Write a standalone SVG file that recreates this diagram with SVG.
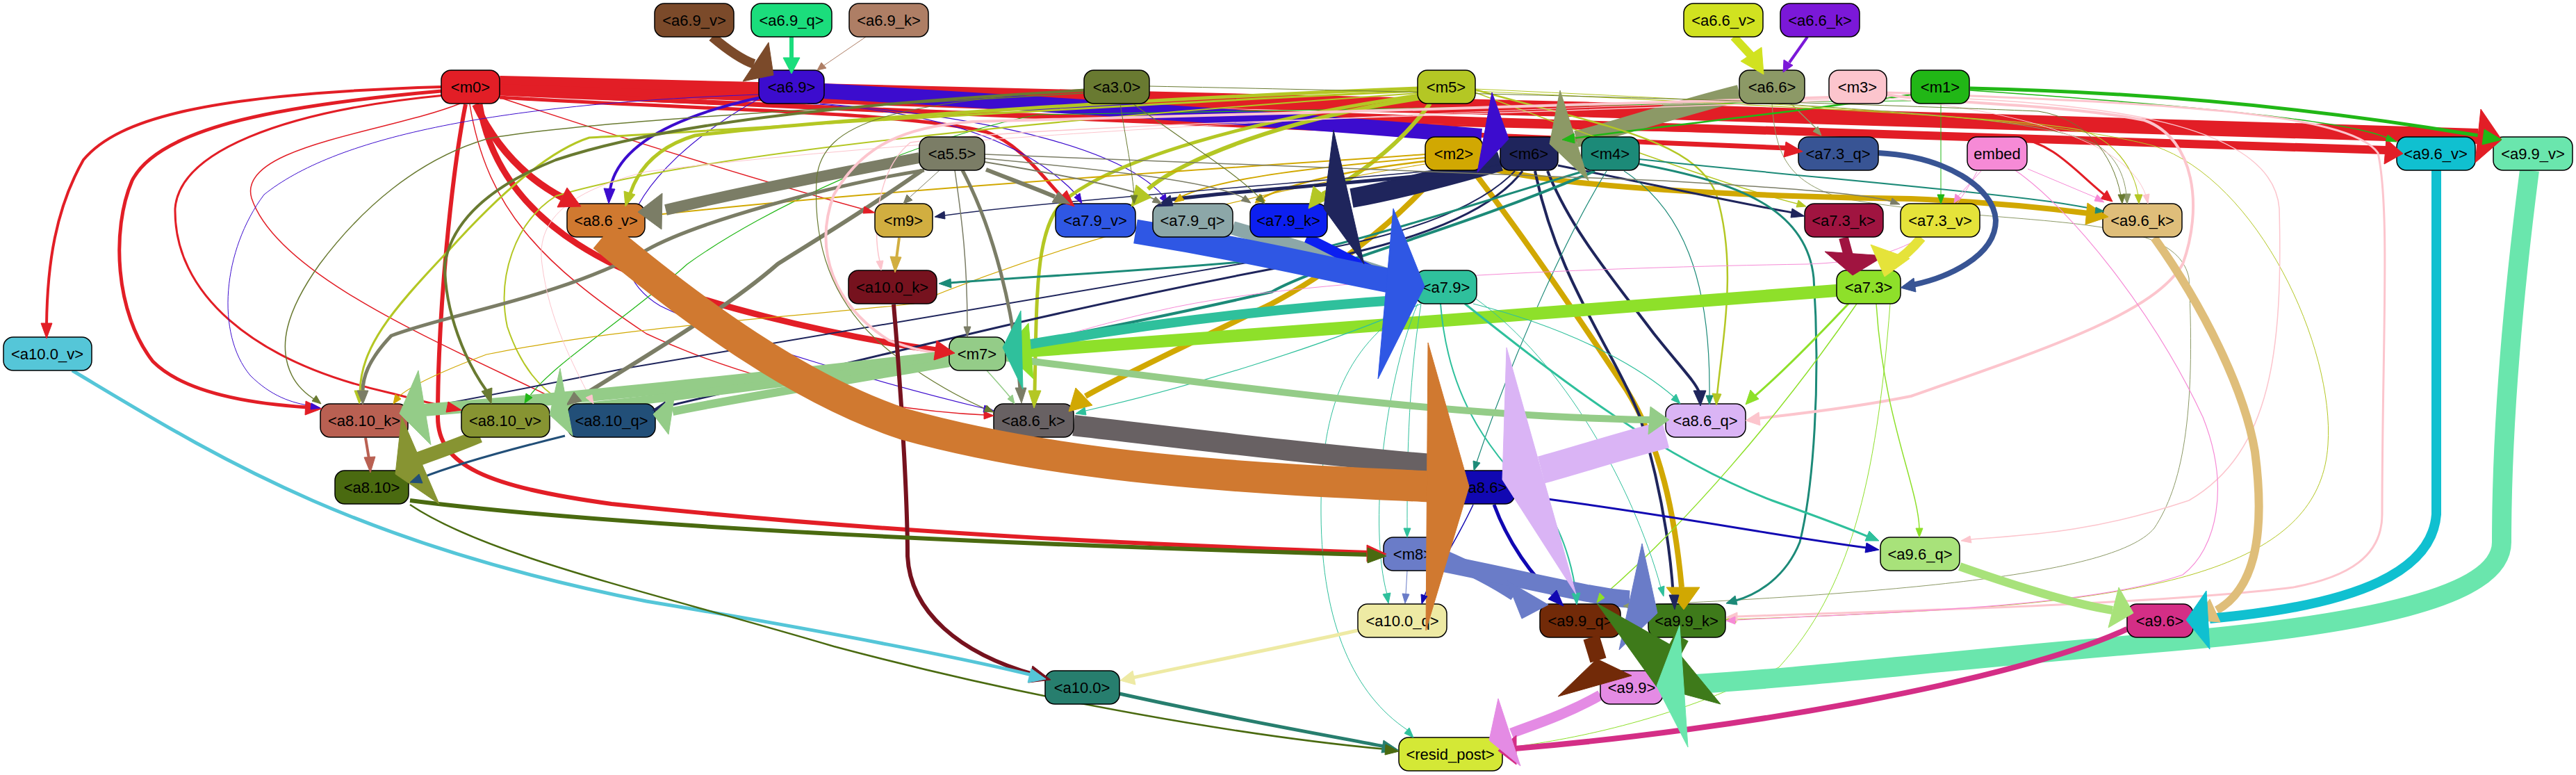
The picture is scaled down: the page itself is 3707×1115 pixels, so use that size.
<svg xmlns="http://www.w3.org/2000/svg" width="3707" height="1115" viewBox="0 0 3707 1115">
<style>
.n rect{stroke:#000;stroke-width:1.5}
.n text{font-family:"Liberation Sans",Arial,sans-serif;font-size:22px;fill:#000;text-anchor:middle}
.e path{fill:none;stroke:currentColor}
.e polygon{fill:currentColor;stroke:currentColor;stroke-width:1}
.c-m0{color:#e21e26}.c-a69{color:#3c0cce}.c-a69v{color:#7b4a2a}.c-a69q{color:#1bdd7c}.c-a69k{color:#ae7e65}
.c-a66v{color:#d1e220}.c-a66k{color:#7b18d8}.c-a66{color:#8c9966}.c-m1{color:#21b716}.c-m5{color:#b4c724}
.c-m2{color:#d1a802}.c-m6{color:#1f255c}.c-m4{color:#1c8a78}.c-a55{color:#7b7d66}.c-m3{color:#fcc5cd}
.c-emb{color:#f68ad6}.c-a30{color:#697a31}.c-a73q{color:#385494}.c-a73k{color:#a01440}.c-a73v{color:#e5e33a}
.c-a96k{color:#dfbe7a}.c-a73{color:#8ee02a}.c-a79{color:#2fc09c}.c-a79q{color:#8ca7a8}.c-a79k{color:#0c1ff0}
.c-a79v{color:#2f57e4}.c-a86k{color:#686163}.c-a86v{color:#d07930}.c-a86q{color:#dab4f5}.c-m7{color:#94cc88}
.c-m9{color:#d1ae40}.c-a100k{color:#76121e}.c-a100v{color:#55c6d8}.c-a100q{color:#eeeaa4}.c-a100{color:#277e6e}
.c-a810k{color:#b96052}.c-a810v{color:#879432}.c-a810q{color:#224f78}.c-a810{color:#4a6a10}.c-a86{color:#1108b2}
.c-m8{color:#6a7cc8}.c-a99q{color:#722a08}.c-a99k{color:#3e7a1a}.c-a99v{color:#6ae6ad}.c-a96v{color:#10c0d0}
.c-a96q{color:#a8e27a}.c-a96{color:#d42e86}.c-a99{color:#e48be4}
</style>
<rect width="3707" height="1115" fill="#fff"/>
<g id="edges" class="e">
<g class="c-m0">
<path d="M719,120 C1500,138 2700,165 3566,196" stroke-width="22"/>
<path d="M719,127 C1500,158 2700,190 3433,216" stroke-width="12"/>
<path d="M719,133 C1400,168 2200,192 2572,213" stroke-width="7"/>
<path d="M684,150 C715,215 760,258 809,284" stroke-width="10"/>
<path d="M690,150 C720,330 900,405 1100,455 C1200,480 1290,496 1348,504" stroke-width="9"/>
<path d="M635,131 C420,150 230,180 190,260 C160,330 165,450 220,520 C270,570 380,582 442,586" stroke-width="5"/>
<path d="M635,125 C300,135 170,170 120,230 C80,300 68,380 67,467" stroke-width="4"/>
<path d="M670,150 C650,250 630,450 630,600 C630,670 700,700 880,725 C1300,770 1700,785 1970,795" stroke-width="6"/>
<path d="M640,137 C400,160 258,220 252,300 C250,420 360,520 560,565 C600,575 625,582 648,586" stroke-width="3"/>
<path d="M662,149 C560,190 340,210 362,285 C400,400 650,500 805,577" stroke-width="1.5"/>
<path d="M676,150 C700,300 780,380 930,480 C1100,560 1300,592 1417,597" stroke-width="1.5"/>
<path d="M724,142 C900,200 1100,262 1246,302" stroke-width="1.5"/>
<path d="M719,140 C1000,158 1300,160 1420,190 C1470,208 1500,255 1528,283" stroke-width="5"/>
<path d="M719,136 C1500,172 2600,192 2900,198 C2955,205 2985,245 3028,280" stroke-width="3"/>
</g>
<g class="c-a69">
<path d="M1186,131 C1500,150 1800,168 2132,196" stroke-width="22"/>
<path d="M1095,140 C980,165 890,205 878,272" stroke-width="4"/>
<path d="M1162,149 C1350,160 1480,205 1550,281" stroke-width="1.2"/>
<path d="M1180,149 C1450,170 1620,220 1674,282" stroke-width="1.2"/>
<path d="M1092,136 C700,150 480,200 380,280 C320,360 310,480 360,540 C390,570 420,580 449,584" stroke-width="1"/>
<path d="M1092,142 C900,250 850,380 950,440 C1050,490 1300,560 1418,588" stroke-width="1.2"/>
</g>
<g class="c-a69v"><path d="M1025,53 C1045,70 1065,85 1085,92" stroke-width="14"/></g>
<g class="c-a69q"><path d="M1139,53 L1139,86" stroke-width="6"/></g>
<g class="c-a69k"><path d="M1246,53 L1186,94" stroke-width="1"/></g>
<g class="c-a66v"><path d="M2495,53 L2520,80" stroke-width="12"/></g>
<g class="c-a66k"><path d="M2601,53 L2575,90" stroke-width="4"/></g>
<g class="c-a66">
<path d="M2503,134 C2400,160 2320,188 2268,200" stroke-width="24"/>
<path d="M2577,149 L2615,186" stroke-width="1.5"/>
<path d="M2550,149 C2555,220 2570,260 2650,285 C2900,330 3130,300 3150,400 C3160,600 3140,700 3100,760 C3050,820 2800,850 2350,871" stroke-width="1"/>
<path d="M2560,149 C2700,160 2950,170 3020,210 C3050,230 3058,260 3060,281" stroke-width="1"/>
</g>
<g class="c-m1">
<path d="M2750,136 C2600,160 2400,180 2264,199" stroke-width="2.5"/>
<path d="M2835,127 C3116,133 3360,160 3572,196" stroke-width="5"/>
<path d="M2835,130 C3238,157 3400,180 3438,200" stroke-width="1.5"/>
<path d="M2793,149 L2793,281" stroke-width="1"/>
<path d="M2750,145 C2200,150 1600,160 1493,165 C1315,200 1100,300 989,380 C900,460 800,520 762,570" stroke-width="1.2"/>
</g>
<g class="c-m5">
<path d="M2040,127 C1700,140 1200,170 1000,195 C950,210 920,240 907,278" stroke-width="5"/>
<path d="M2040,131 C1600,150 1000,190 848,198 C780,220 700,300 646,360 C560,450 520,500 518,563" stroke-width="3"/>
<path d="M2040,134 C1500,172 1000,222 800,282 C740,320 715,400 730,470 C750,530 780,560 804,574" stroke-width="2"/>
<path d="M2058,149 C2010,215 1940,262 1903,279" stroke-width="6"/>
<path d="M2045,141 C1850,170 1700,230 1652,272" stroke-width="6"/>
<path d="M2042,137 C1800,172 1600,230 1530,290 C1490,330 1492,420 1489,563" stroke-width="5"/>
<path d="M2123,129 C2300,180 2440,200 2470,280 C2500,380 2480,480 2471,568" stroke-width="2.5"/>
<path d="M2123,133 C2300,200 2500,272 2586,293" stroke-width="1.5"/>
<path d="M2123,131 C2500,150 2900,168 2994,187 C3040,200 3070,240 3077,281" stroke-width="1.2"/>
<path d="M2123,128 C2600,150 2950,170 3100,210 C3250,260 3360,500 3350,640 C3340,800 3150,860 2750,880 C2600,888 2520,890 2497,891" stroke-width="1"/>
</g>
<g class="c-m2">
<path d="M2072,246 C2000,330 1900,400 1830,437 C1700,500 1600,548 1562,570" stroke-width="8"/>
<path d="M2120,246 C2200,350 2280,470 2340,560 C2390,640 2410,740 2420,845" stroke-width="8"/>
<path d="M2134,240 C2250,270 2500,282 2750,286 C2850,290 2950,300 3006,307" stroke-width="8"/>
<path d="M2051,222 C1800,240 1300,270 944,309" stroke-width="2"/>
<path d="M2051,227 C1900,240 1760,255 1700,283" stroke-width="2"/>
<path d="M2051,232 C1960,242 1860,262 1818,284" stroke-width="2.5"/>
<path d="M2051,236 C1900,260 1600,320 1315,437 C1100,460 900,470 700,510 C620,540 585,560 572,572" stroke-width="1.2"/>
</g>
<g class="c-m6">
<path d="M2159,232 C2080,255 2000,275 1945,285" stroke-width="28"/>
<path d="M2191,246 C2150,300 2050,350 1830,387 C1500,450 1250,517 957,585" stroke-width="3"/>
<path d="M2180,246 C2100,330 1900,360 1830,372 C1500,427 1200,480 900,530 C750,560 650,580 602,587" stroke-width="2"/>
<path d="M2159,237 C1800,270 1500,290 1359,310" stroke-width="1.5"/>
<path d="M2159,241 C1950,265 1800,272 1686,287" stroke-width="5"/>
<path d="M2227,246 C2260,330 2320,400 2380,480 C2420,530 2440,550 2445,564" stroke-width="4"/>
<path d="M2209,246 C2240,400 2320,500 2360,600 C2390,700 2403,780 2408,857" stroke-width="4"/>
<path d="M2242,238 C2400,270 2500,292 2580,306" stroke-width="3"/>
</g>
<g class="c-m4">
<path d="M2280,246 C2100,300 1950,350 1830,373 C1650,390 1450,400 1368,407" stroke-width="3"/>
<path d="M2295,246 C2100,330 1900,380 1830,420 C1700,450 1550,480 1472,494" stroke-width="4"/>
<path d="M2359,236 C2500,262 2600,300 2610,400 C2620,550 2610,700 2590,780 C2570,830 2530,855 2498,864" stroke-width="3"/>
<path d="M2359,229 C2550,250 2800,270 2950,290 C2990,296 3010,300 3020,302" stroke-width="2"/>
<path d="M2337,246 C2420,300 2462,400 2460,570" stroke-width="1.2"/>
<path d="M2312,246 C2260,330 2180,500 2125,665" stroke-width="1.2"/>
</g>
<g class="c-a55">
<path d="M1323,227 C1200,250 1050,280 958,302" stroke-width="16"/>
<path d="M1330,245 C1200,265 1000,320 930,360 C800,430 650,450 563,483 C528,520 522,545 522,563" stroke-width="5"/>
<path d="M1327,245 C1250,300 1150,360 1119,380 C1050,440 950,500 830,574" stroke-width="6"/>
<path d="M1352,245 L1310,283" stroke-width="1"/>
<path d="M1419,244 C1460,260 1500,275 1518,283" stroke-width="6"/>
<path d="M1417,233 C1550,255 1630,272 1662,287" stroke-width="2"/>
<path d="M1417,228 C1600,245 1750,262 1790,285" stroke-width="1.5"/>
<path d="M1417,222 C1800,238 2156,248 2393,260 C2600,272 2690,280 2722,290" stroke-width="1.5"/>
<path d="M1374,245 C1385,320 1392,380 1392,470" stroke-width="1.5"/>
<path d="M1385,245 C1430,330 1460,450 1468,560" stroke-width="5"/>
</g>
<g class="c-m3">
<path d="M2715,136 C2800,150 2960,148 3086,173 C3160,200 3170,300 3141,380 C3100,450 2950,500 2750,570 C2650,590 2560,598 2530,602" stroke-width="4"/>
<path d="M2632,140 C2300,150 1800,165 1400,175 C1300,182 1240,210 1200,280 C1170,360 1200,440 1280,490 C1315,503 1335,506 1352,508" stroke-width="4"/>
<path d="M2632,145 C2000,170 1500,180 1310,205 C1262,245 1255,330 1266,376" stroke-width="1.5"/>
<path d="M2632,143 C2000,160 1300,200 930,247 C830,272 770,310 780,380 C790,460 825,525 848,570" stroke-width="1"/>
<path d="M2715,133 C3100,148 3380,160 3422,220 C3440,300 3428,500 3428,740 C3428,800 3380,830 3300,845 C3100,870 2700,880 2500,887" stroke-width="3"/>
<path d="M2715,141 C2900,160 3060,200 3088,281" stroke-width="1"/>
<path d="M2715,138 C3000,145 3270,170 3280,300 C3285,500 3270,650 3150,720 C3000,770 2900,770 2836,776" stroke-width="1.5"/>
</g>
<g class="c-emb">
<path d="M2845,247 C2800,330 2750,375 2600,380 C2300,385 1900,400 1700,440 C1600,460 1510,490 1463,500" stroke-width="1"/>
<path d="M2851,246 L2818,282" stroke-width="1"/>
<path d="M2918,243 L3018,285" stroke-width="1"/>
<path d="M2900,245 C2980,300 3100,450 3170,600 C3210,700 3190,790 3141,827 C3000,875 2700,882 2497,892" stroke-width="1.2"/>
</g>
<g class="c-a30">
<path d="M1560,130 C1200,150 950,180 800,230 C700,270 650,320 640,380 C640,450 670,520 700,562" stroke-width="4"/>
<path d="M1560,134 C1100,160 800,180 700,200 C600,230 520,300 460,380 C410,450 400,500 420,540 C430,560 445,570 455,576" stroke-width="1.5"/>
<path d="M1560,128 C1300,150 1180,170 1175,260 C1170,360 1200,450 1300,520 C1350,556 1395,578 1418,588" stroke-width="1.2"/>
<path d="M1630,149 C1700,200 1780,250 1812,284" stroke-width="1.2"/>
<path d="M1612,149 C1620,200 1630,250 1632,281" stroke-width="1"/>
<path d="M1654,124 C2200,135 2700,150 2933,160 C3000,170 3040,220 3052,281" stroke-width="1"/>
</g>
<g class="c-a73q"><path d="M2703,220 C2800,225 2870,270 2872,317 C2872,370 2800,400 2752,410" stroke-width="8"/></g>
<g class="c-a73k"><path d="M2653,342 L2660,368" stroke-width="14"/></g>
<g class="c-a73v"><path d="M2765,342 C2750,360 2735,372 2725,378" stroke-width="14"/></g>
<g class="c-a96k"><path d="M3100,342 C3170,440 3230,560 3245,650 C3262,780 3240,850 3190,878" stroke-width="12"/></g>
<g class="c-a73">
<path d="M2643,418 C2300,445 1800,482 1480,505" stroke-width="18"/>
<path d="M2660,437 C2610,490 2560,540 2525,570" stroke-width="3"/>
<path d="M2672,437 C2560,600 2420,760 2306,858" stroke-width="1.5"/>
<path d="M2700,437 C2710,600 2760,700 2762,760" stroke-width="1.5"/>
<path d="M2720,437 C2700,700 2660,850 2560,960 C2400,1040 2250,1065 2175,1075" stroke-width="1"/>
</g>
<g class="c-a79">
<path d="M2037,430 C1800,445 1600,475 1478,496" stroke-width="14"/>
<path d="M2045,437 C1900,500 1700,560 1562,591" stroke-width="1.2"/>
<path d="M2120,437 C2250,470 2350,520 2410,572" stroke-width="1.2"/>
<path d="M2108,437 C2250,550 2393,660 2550,720 C2620,745 2660,760 2688,772" stroke-width="3"/>
<path d="M2073,437 C2085,590 2156,660 2230,740 C2255,780 2265,830 2268,855" stroke-width="2"/>
<path d="M2045,437 C2025,560 2025,680 2025,761" stroke-width="1"/>
<path d="M2040,437 C1990,560 1970,760 1996,855" stroke-width="1"/>
<path d="M2037,437 C1930,500 1900,600 1901,740 C1902,900 1950,1000 2025,1050" stroke-width="1"/>
<path d="M2124,430 C2250,520 2350,700 2390,845" stroke-width="1"/>
</g>
<g class="c-a79q"><path d="M1774,328 C1850,350 1950,380 2010,400" stroke-width="20"/></g>
<g class="c-a79k"><path d="M1880,342 C1920,360 1970,390 2010,405" stroke-width="14"/></g>
<g class="c-a79v"><path d="M1634,333 C1800,360 1900,385 2005,405" stroke-width="35"/></g>
<g class="c-a86k"><path d="M1545,612 C1700,630 1900,655 2060,668" stroke-width="30"/></g>
<g class="c-a86q"><path d="M2397,625 C2320,645 2260,665 2218,676" stroke-width="40"/></g>
<g class="c-m7">
<path d="M1366,513 C1100,545 800,575 610,590" stroke-width="18"/>
<path d="M1366,518 C1150,548 950,575 815,588" stroke-width="12"/>
<path d="M1366,522 C1200,550 1050,575 968,592" stroke-width="12"/>
<path d="M1447,515 C1800,560 2100,600 2375,604" stroke-width="10"/>
<path d="M1420,533 C1440,555 1450,567 1455,573" stroke-width="1.5"/>
</g>
<g class="c-m9"><path d="M1294,342 L1290,372" stroke-width="4"/></g>
<g class="c-a100k"><path d="M1286,438 C1300,600 1306,740 1306,800 C1310,880 1380,940 1490,971" stroke-width="6"/></g>
<g class="c-a100v"><path d="M104,533 C300,650 500,780 930,865 C1200,910 1400,950 1488,972" stroke-width="5"/></g>
<g class="c-a100q"><path d="M1954,907 C1850,930 1700,960 1630,975" stroke-width="5"/></g>
<g class="c-a100"><path d="M1611,998 C1800,1040 1950,1065 1992,1074" stroke-width="5"/></g>
<g class="c-a810k"><path d="M526,630 L531,660" stroke-width="4"/></g>
<g class="c-a810v"><path d="M690,627 C660,640 630,650 603,660" stroke-width="20"/></g>
<g class="c-a810q"><path d="M813,627 C720,650 650,670 605,688" stroke-width="3"/></g>
<g class="c-a810">
<path d="M590,720 C900,760 1500,785 1970,798" stroke-width="6"/>
<path d="M590,726 C700,800 930,850 1200,930 C1500,1010 1800,1060 1995,1078" stroke-width="2.5"/>
</g>
<g class="c-a86">
<path d="M2150,726 C2170,780 2205,830 2238,858" stroke-width="5"/>
<path d="M2182,712 C2400,740 2550,770 2686,788" stroke-width="3"/>
<path d="M2120,726 C2090,790 2060,830 2050,857" stroke-width="1.5"/>
</g>
<g class="c-m8">
<path d="M2075,800 C2110,815 2150,835 2180,855" stroke-width="20"/>
<path d="M2075,810 C2200,835 2300,860 2345,862" stroke-width="25"/>
<path d="M2025,821 L2023,855" stroke-width="1"/>
</g>
<g class="c-a99v"><path d="M3640,245 C3620,400 3600,600 3600,780 C3600,860 3400,900 3100,925 C2800,950 2600,975 2425,985" stroke-width="28"/></g>
<g class="c-a96v"><path d="M3506,245 L3506,740 C3500,820 3400,870 3180,890" stroke-width="14"/></g>
<g class="c-a96q"><path d="M2820,815 C2920,850 2990,870 3040,878" stroke-width="12"/></g>
<g class="c-a96"><path d="M3061,905 C2900,980 2500,1050 2180,1077" stroke-width="8"/></g>
<g class="c-a99"><path d="M2303,1000 C2250,1030 2200,1045 2175,1055" stroke-width="15"/></g>
</g>
<g id="nodes" class="n">
<g id="a6.9_v"><rect x="942" y="5" width="114" height="48" rx="14" fill="#7b4a2a"/><text x="999" y="37">&lt;a6.9_v&gt;</text></g>
<g id="a6.9_q"><rect x="1081" y="5" width="116" height="48" rx="14" fill="#1bdd7c"/><text x="1139" y="37">&lt;a6.9_q&gt;</text></g>
<g id="a6.9_k"><rect x="1222" y="5" width="114" height="48" rx="14" fill="#ae7e65"/><text x="1279" y="37">&lt;a6.9_k&gt;</text></g>
<g id="a6.6_v"><rect x="2423" y="5" width="114" height="48" rx="14" fill="#d1e220"/><text x="2480" y="37">&lt;a6.6_v&gt;</text></g>
<g id="a6.6_k"><rect x="2562" y="5" width="114" height="48" rx="14" fill="#7b18d8"/><text x="2619" y="37">&lt;a6.6_k&gt;</text></g>
<g id="m0"><rect x="635" y="101" width="84" height="48" rx="14" fill="#e21e26"/><text x="677" y="133">&lt;m0&gt;</text></g>
<g id="a6.9"><rect x="1092" y="101" width="94" height="48" rx="14" fill="#3c0cce"/><text x="1139" y="133">&lt;a6.9&gt;</text></g>
<g id="a3.0"><rect x="1560" y="101" width="94" height="48" rx="14" fill="#697a31"/><text x="1607" y="133">&lt;a3.0&gt;</text></g>
<g id="m5"><rect x="2040" y="101" width="83" height="48" rx="14" fill="#b4c724"/><text x="2081" y="133">&lt;m5&gt;</text></g>
<g id="a6.6"><rect x="2503" y="101" width="94" height="48" rx="14" fill="#8c9966"/><text x="2550" y="133">&lt;a6.6&gt;</text></g>
<g id="m3"><rect x="2632" y="101" width="83" height="48" rx="14" fill="#fcc5cd"/><text x="2673" y="133">&lt;m3&gt;</text></g>
<g id="m1"><rect x="2750" y="101" width="84" height="48" rx="14" fill="#21b716"/><text x="2792" y="133">&lt;m1&gt;</text></g>
<g id="a5.5"><rect x="1323" y="197" width="94" height="48" rx="14" fill="#7b7d66"/><text x="1370" y="229">&lt;a5.5&gt;</text></g>
<g id="m2"><rect x="2051" y="197" width="83" height="48" rx="14" fill="#d1a802"/><text x="2092" y="229">&lt;m2&gt;</text></g>
<g id="m6"><rect x="2159" y="197" width="83" height="48" rx="14" fill="#1f255c"/><text x="2200" y="229">&lt;m6&gt;</text></g>
<g id="m4"><rect x="2276" y="197" width="83" height="48" rx="14" fill="#1c8a78"/><text x="2317" y="229">&lt;m4&gt;</text></g>
<g id="a7.3_q"><rect x="2588" y="197" width="115" height="48" rx="14" fill="#385494"/><text x="2645" y="229">&lt;a7.3_q&gt;</text></g>
<g id="embed"><rect x="2831" y="197" width="86" height="48" rx="14" fill="#f68ad6"/><text x="2874" y="229">embed</text></g>
<g id="a9.6_v"><rect x="3449" y="197" width="113" height="48" rx="14" fill="#10c0d0"/><text x="3505" y="229">&lt;a9.6_v&gt;</text></g>
<g id="a9.9_v"><rect x="3588" y="197" width="114" height="48" rx="14" fill="#6ae6ad"/><text x="3645" y="229">&lt;a9.9_v&gt;</text></g>
<g id="a8.6_v"><rect x="816" y="293" width="112" height="48" rx="14" fill="#d07930"/><text x="872" y="325">&lt;a8.6_v&gt;</text></g>
<g id="m9"><rect x="1259" y="293" width="83" height="48" rx="14" fill="#d1ae40"/><text x="1300" y="325">&lt;m9&gt;</text></g>
<g id="a7.9_v"><rect x="1519" y="293" width="115" height="48" rx="14" fill="#2f57e4"/><text x="1576" y="325">&lt;a7.9_v&gt;</text></g>
<g id="a7.9_q"><rect x="1659" y="293" width="115" height="48" rx="14" fill="#8ca7a8"/><text x="1716" y="325">&lt;a7.9_q&gt;</text></g>
<g id="a7.9_k"><rect x="1799" y="293" width="111" height="48" rx="14" fill="#0c1ff0"/><text x="1854" y="325">&lt;a7.9_k&gt;</text></g>
<g id="a7.3_k"><rect x="2597" y="293" width="113" height="48" rx="14" fill="#a01440"/><text x="2653" y="325">&lt;a7.3_k&gt;</text></g>
<g id="a7.3_v"><rect x="2735" y="293" width="114" height="48" rx="14" fill="#e5e33a"/><text x="2792" y="325">&lt;a7.3_v&gt;</text></g>
<g id="a9.6_k"><rect x="3026" y="293" width="114" height="48" rx="14" fill="#dfbe7a"/><text x="3083" y="325">&lt;a9.6_k&gt;</text></g>
<g id="a10.0_k"><rect x="1221" y="389" width="127" height="48" rx="14" fill="#76121e"/><text x="1284" y="421">&lt;a10.0_k&gt;</text></g>
<g id="a7.9"><rect x="2037" y="389" width="88" height="48" rx="14" fill="#2fc09c"/><text x="2081" y="421">&lt;a7.9&gt;</text></g>
<g id="a7.3"><rect x="2643" y="389" width="92" height="48" rx="14" fill="#8ee02a"/><text x="2689" y="421">&lt;a7.3&gt;</text></g>
<g id="a10.0_v"><rect x="5" y="485" width="127" height="48" rx="14" fill="#55c6d8"/><text x="68" y="517">&lt;a10.0_v&gt;</text></g>
<g id="m7"><rect x="1366" y="485" width="81" height="48" rx="14" fill="#94cc88"/><text x="1406" y="517">&lt;m7&gt;</text></g>
<g id="a8.10_k"><rect x="461" y="581" width="126" height="48" rx="14" fill="#b96052"/><text x="524" y="613">&lt;a8.10_k&gt;</text></g>
<g id="a8.10_v"><rect x="664" y="581" width="127" height="48" rx="14" fill="#879432"/><text x="727" y="613">&lt;a8.10_v&gt;</text></g>
<g id="a8.10_q"><rect x="817" y="581" width="126" height="48" rx="14" fill="#224f78"/><text x="880" y="613">&lt;a8.10_q&gt;</text></g>
<g id="a8.6_k"><rect x="1430" y="581" width="115" height="48" rx="14" fill="#686163"/><text x="1487" y="613">&lt;a8.6_k&gt;</text></g>
<g id="a8.6_q"><rect x="2397" y="581" width="115" height="48" rx="14" fill="#dab4f5"/><text x="2454" y="613">&lt;a8.6_q&gt;</text></g>
<g id="a8.10"><rect x="482" y="677" width="106" height="48" rx="14" fill="#4a6a10"/><text x="535" y="709">&lt;a8.10&gt;</text></g>
<g id="a8.6"><rect x="2088" y="677" width="92" height="48" rx="14" fill="#1108b2"/><text x="2134" y="709">&lt;a8.6&gt;</text></g>
<g id="m8"><rect x="1991" y="773" width="84" height="48" rx="14" fill="#6a7cc8"/><text x="2033" y="805">&lt;m8&gt;</text></g>
<g id="a9.6_q"><rect x="2706" y="773" width="114" height="48" rx="14" fill="#a8e27a"/><text x="2763" y="805">&lt;a9.6_q&gt;</text></g>
<g id="a10.0_q"><rect x="1954" y="869" width="128" height="48" rx="14" fill="#eeeaa4"/><text x="2018" y="901">&lt;a10.0_q&gt;</text></g>
<g id="a9.9_q"><rect x="2216" y="869" width="116" height="48" rx="14" fill="#722a08"/><text x="2274" y="901">&lt;a9.9_q&gt;</text></g>
<g id="a9.9_k"><rect x="2372" y="869" width="111" height="48" rx="14" fill="#3e7a1a"/><text x="2427" y="901">&lt;a9.9_k&gt;</text></g>
<g id="a9.6"><rect x="3061" y="869" width="95" height="48" rx="14" fill="#d42e86"/><text x="3108" y="901">&lt;a9.6&gt;</text></g>
<g id="a10.0"><rect x="1504" y="965" width="107" height="48" rx="14" fill="#277e6e"/><text x="1557" y="997">&lt;a10.0&gt;</text></g>
<g id="a9.9"><rect x="2303" y="965" width="90" height="48" rx="14" fill="#e48be4"/><text x="2348" y="997">&lt;a9.9&gt;</text></g>
<g id="resid_post"><rect x="2013" y="1061" width="149" height="48" rx="14" fill="#d4e836"/><text x="2087" y="1093">&lt;resid_post&gt;</text></g>
</g>
<g id="arrowheads" class="e">
<g class="c-m0">
<polygon points="3600,201 3570,157 3562,234"/><polygon points="3458,221 3434,200 3431,236"/><polygon points="2594,218 2570,204 2567,226"/>
<polygon points="836,297 802,298 816,270"/><polygon points="1374,508 1348,490 1344,518"/><polygon points="463,588 440,577 439,597"/>
<polygon points="67,487 59,465 75,465"/><polygon points="1995,797 1967,784 1967,808"/><polygon points="664,590 645,578 642,593"/>
<polygon points="816,584 800,571 796,580"/><polygon points="1430,598 1416,592 1416,603"/><polygon points="1259,306 1244,297 1242,307"/>
<polygon points="1546,297 1521,289 1535,274"/><polygon points="3040,290 3023,286 3032,274"/>
</g>
<g class="c-a69">
<polygon points="2171,200 2147,133 2126,248"/><polygon points="876,293 869,271 885,272"/><polygon points="1557,293 1546,284 1554,278"/>
<polygon points="1680,293 1669,285 1677,279"/><polygon points="461,587 448,580 447,589"/><polygon points="1430,591 1417,583 1415,593"/>
</g>
<g class="c-a69v"><polygon points="1113,108 1106,61 1069,117"/></g>
<g class="c-a69q"><polygon points="1139,106 1127,83 1151,83"/></g>
<g class="c-a69k"><polygon points="1176,101 1182,90 1189,98"/></g>
<g class="c-a66v"><polygon points="2538,107 2505,88 2535,68"/></g>
<g class="c-a66k"><polygon points="2566,104 2567,86 2580,94"/></g>
<g class="c-a66"><polygon points="2230,207 2245,130 2286,260"/><polygon points="2621,195 2609,189 2616,182"/><polygon points="2336,872 2352,864 2352,878"/><polygon points="3061,293 3055,279 3066,279"/></g>
<g class="c-m1"><polygon points="2248,201 2265,192 2266,206"/><polygon points="3600,201 3575,186 3572,208"/><polygon points="3449,204 3436,194 3433,203"/><polygon points="2793,293 2788,280 2798,280"/><polygon points="755,580 757,566 766,572"/></g>
<g class="c-m5">
<polygon points="900,297 898,275 914,280"/><polygon points="517,581 510,562 526,562"/><polygon points="815,583 799,577 806,567"/>
<polygon points="1883,300 1890,268 1912,286"/><polygon points="1628,297 1635,266 1657,284"/><polygon points="1488,587 1480,562 1498,562"/>
<polygon points="2470,583 2464,566 2477,567"/><polygon points="2599,297 2585,298 2588,288"/><polygon points="3078,293 3072,280 3083,280"/>
<polygon points="2484,891 2498,886 2498,896"/>
</g>
<g class="c-m2">
<polygon points="1538,592 1548,558 1572,583"/><polygon points="2423,877 2398,845 2446,845"/><polygon points="3034,312 3004,292 3001,323"/>
<polygon points="930,311 946,302 947,315"/><polygon points="1690,291 1698,279 1704,288"/><polygon points="1806,292 1813,279 1821,289"/>
<polygon points="566,581 569,567 577,574"/>
</g>
<g class="c-m6">
<polygon points="1905,300 1919,187 1963,380"/><polygon points="939,590 957,578 961,595"/><polygon points="588,590 603,582 604,594"/>
<polygon points="1345,312 1359,304 1360,315"/><polygon points="1664,297 1684,281 1688,296"/><polygon points="2447,584 2437,562 2455,562"/>
<polygon points="2410,877 2402,856 2416,856"/><polygon points="2597,311 2579,300 2577,313"/>
</g>
<g class="c-m4">
<polygon points="1351,408 1368,401 1369,414"/><polygon points="1452,498 1470,487 1473,502"/><polygon points="2484,868 2497,857 2500,870"/>
<polygon points="3028,304 3016,298 3015,307"/><polygon points="2460,582 2455,569 2465,569"/><polygon points="2121,677 2120,663 2130,666"/>
</g>
<g class="c-a55">
<polygon points="918,305 953,278 952,330"/><polygon points="522,582 514,562 530,562"/><polygon points="815,583 826,564 837,577"/>
<polygon points="1300,293 1305,280 1313,288"/><polygon points="1540,293 1514,291 1523,276"/><polygon points="1672,293 1658,291 1663,283"/>
<polygon points="1800,292 1786,289 1792,281"/><polygon points="2734,294 2720,294 2723,285"/><polygon points="1392,484 1387,470 1397,470"/>
<polygon points="1470,580 1461,558 1477,558"/>
</g>
<g class="c-m3">
<polygon points="2512,605 2531,593 2533,612"/><polygon points="1268,389 1261,376 1271,375"/><polygon points="854,581 843,572 852,568"/>
<polygon points="2484,888 2500,881 2500,894"/><polygon points="3091,293 3084,281 3093,279"/><polygon points="2822,778 2835,771 2837,781"/>
</g>
<g class="c-emb">
<polygon points="1450,503 1462,495 1464,505"/><polygon points="2812,292 2814,279 2822,285"/><polygon points="3028,291 3014,289 3018,280"/><polygon points="2484,893 2497,887 2497,898"/>
</g>
<g class="c-a30">
<polygon points="707,581 693,563 708,558"/><polygon points="462,581 449,577 455,569"/><polygon points="1430,593 1416,592 1420,583"/>
<polygon points="1820,293 1807,287 1815,280"/><polygon points="1632,293 1627,281 1637,281"/><polygon points="3054,293 3048,280 3058,280"/>
</g>
<g class="c-a73q"><polygon points="2735,414 2754,400 2757,420"/></g>
<g class="c-a73k"><polygon points="2666,396 2626,362 2712,368"/></g>
<g class="c-a73v"><polygon points="2712,398 2692,352 2748,372"/></g>
<g class="c-a96k"><polygon points="3158,892 3180,862 3195,895"/></g>
<g class="c-a73">
<polygon points="1445,505 1480,465 1487,545"/><polygon points="2512,582 2519,561 2531,574"/><polygon points="2298,867 2302,853 2309,860"/>
<polygon points="2762,773 2757,760 2767,760"/><polygon points="2162,1077 2174,1070 2176,1080"/>
</g>
<g class="c-a79">
<polygon points="1443,500 1469,447 1472,560"/><polygon points="1548,595 1561,586 1563,597"/><polygon points="2418,581 2405,575 2412,567"/>
<polygon points="2704,778 2684,778 2690,764"/><polygon points="2269,870 2262,854 2274,853"/><polygon points="2025,773 2020,760 2030,760"/>
<polygon points="1998,868 1990,855 2001,853"/><polygon points="2034,1061 2021,1055 2028,1047"/><polygon points="2394,858 2386,846 2395,843"/>
</g>
<g class="c-a79v"><polygon points="2050,412 2005,300 1983,545"/></g>
<g class="c-a86k"><polygon points="2095,670 2060,545 2060,800"/></g>
<g class="c-a86v"><path d="M868,340 C1000,450 1150,560 1300,610 C1550,680 1850,690 2058,700" stroke-width="45"/><polygon points="2114,700 2055,493 2052,907"/></g>
<g class="c-a86q"><polygon points="2162,690 2168,500 2268,855"/></g>
<g class="c-m7">
<polygon points="575,595 602,533 620,640"/><polygon points="791,597 806,530 824,627"/><polygon points="940,596 971,567 962,625"/>
<polygon points="2402,604 2375,585 2372,625"/><polygon points="1460,581 1450,574 1457,568"/>
</g>
<g class="c-m9"><polygon points="1288,392 1281,369 1297,370"/></g>
<g class="c-a100k"><polygon points="1512,978 1486,958 1480,982"/></g>
<g class="c-a100v"><polygon points="1505,977 1484,962 1479,982"/></g>
<g class="c-a100q"><polygon points="1612,979 1630,965 1634,985"/></g>
<g class="c-a100"><polygon points="2012,1079 1991,1065 1988,1083"/></g>
<g class="c-a810k"><polygon points="533,680 524,658 540,657"/></g>
<g class="c-a810v"><polygon points="569,682 578,600 632,725"/></g>
<g class="c-a810q"><polygon points="590,694 603,682 608,695"/></g>
<g class="c-a810"><polygon points="1995,800 1968,788 1968,810"/><polygon points="2013,1081 1994,1071 1993,1086"/></g>
<g class="c-a86"><polygon points="2250,872 2228,862 2240,849"/><polygon points="2704,791 2686,781 2684,795"/><polygon points="2046,869 2045,855 2054,858"/></g>
<g class="c-m8"><polygon points="2228,870 2168,835 2190,890"/><polygon points="2385,882 2363,782 2330,935"/><polygon points="2022,868 2018,854 2028,855"/></g>
<g class="c-a99q"><path d="M2290,917 L2300,950" stroke-width="24"/><polygon points="2242,1002 2298,948 2348,972"/></g>
<g class="c-a99k"><path d="M2420,917 L2405,945" stroke-width="22"/><polygon points="2298,868 2384,988 2476,1013 2408,930"/></g>
<g class="c-a99v"><polygon points="2384,987 2417,900 2429,1075"/></g>
<g class="c-a96v"><polygon points="3146,892 3175,850 3180,934"/></g>
<g class="c-a96q"><polygon points="3070,882 3049,845 3034,903"/></g>
<g class="c-a96"><polygon points="2156,1080 2182,1058 2182,1100"/></g>
<g class="c-a99"><polygon points="2143,1065 2156,1005 2188,1102"/></g>
</g>
</svg>
